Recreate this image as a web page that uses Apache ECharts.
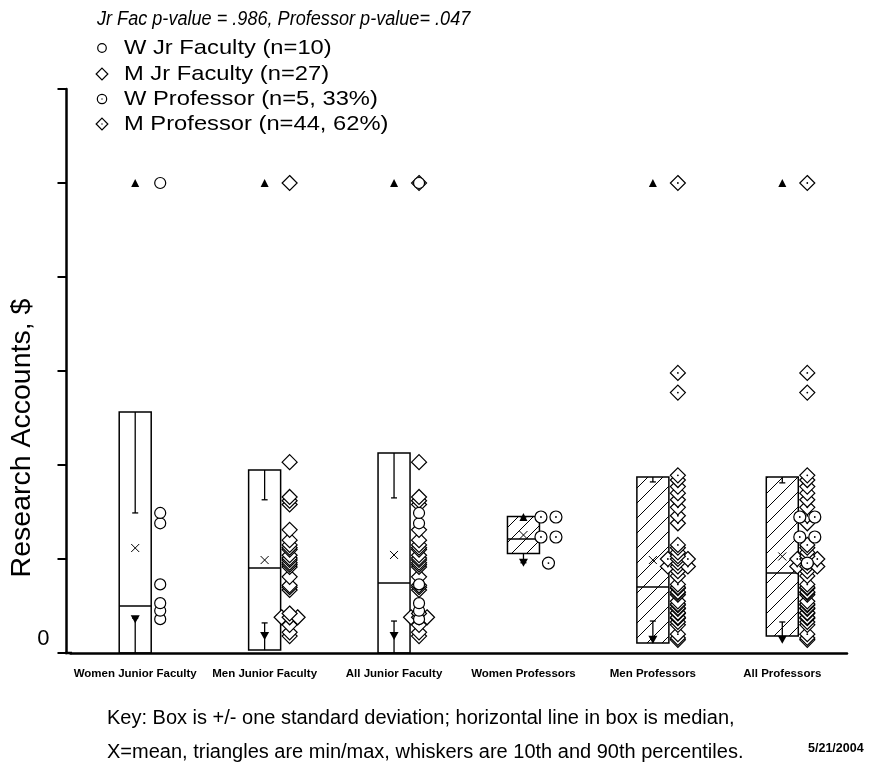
<!DOCTYPE html>
<html><head><meta charset="utf-8">
<script src="https://cdn.jsdelivr.net/npm/echarts@6/dist/echarts.min.js"></script>
<style>html,body{margin:0;padding:0;background:#fff}#c{width:869px;height:767px}</style>
</head><body><div id="c"></div>
<script>
// ---------------- data ----------------
const categories = ['Women Junior Faculty','Men Junior Faculty','All Junior Faculty','Women Professors','Men Professors','All Professors'];
const boxMean   = [1.117, 0.989, 1.043, 1.255, 0.989, 1.027];
const boxSD     = [1.447, 0.958, 1.085, 0.197, 0.883, 0.846];
const boxMedian = [0.500, 0.904, 0.745, 1.213, 0.702, 0.851];
const pct10     = [0.37, 0.32, 0.34, 0.96, 0.34, 0.33];
const pct90     = [1.49, 1.63, 1.65, 1.447, 1.82, 1.81];
const minValue  = [0.36, 0.18, 0.18, 0.96, 0.14, 0.14];
const maxValue  = [5.0, 5.0, 5.0, 1.447, 5.0, 5.0];
const hatched   = [false, false, false, true, true, true];

const wJrFaculty = [5.0, 1.49, 1.38, 0.73, 0.53, 0.45, 0.36];
const mJrFaculty = [5.0, 2.03, 1.66, 1.62, 1.58, 1.31, 1.20, 1.15, 1.12, 1.10, 1.04, 1.01, 0.99, 0.96, 0.94, 0.915, 0.81, 0.72, 0.70, 0.67, 0.42, 0.38, 0.38, 0.38, 0.30, 0.22, 0.18];
const wProfessor = [1.447, 1.447, 1.234, 1.234, 0.957];
const mProfessor = [5.0, 2.98, 2.77, 1.89, 1.84, 1.77, 1.70, 1.63, 1.55, 1.46, 1.38, 1.15, 1.12, 1.07, 1.03, 1.00, 1.00, 1.00, 0.96, 0.92, 0.92, 0.92, 0.87, 0.82, 0.73, 0.70, 0.69, 0.65, 0.64, 0.62, 0.55, 0.52, 0.51, 0.48, 0.47, 0.43, 0.42, 0.38, 0.37, 0.33, 0.30, 0.20, 0.16, 0.14];

const yTickLabels = ['0', '', '', '', '', '', ''];
const legendLabels = ['W Jr Faculty (n=10)', 'M Jr Faculty (n=27)', 'W Professor (n=5, 33%)', 'M Professor (n=44, 62%)'];
const pValueText = 'Jr Fac p-value = .986, Professor p-value= .047';
const yAxisTitle = 'Research Accounts, $';
const keyLines = ['Key: Box is +/- one standard deviation; horizontal line in box is median,',
                  'X=mean, triangles are min/max, whiskers are 10th and 90th percentiles.'];
const dateText = '5/21/2004';

// which point sets appear in which group (drawing order: men first)
const groupSets = [[0], [1], [1, 0], [2], [3], [3, 2]];
const setValues = [wJrFaculty, mJrFaculty, wProfessor, mProfessor];

// ---------------- styles / helpers ----------------
const FONT = '"Liberation Sans", Arial, Helvetica, sans-serif';
const setSpacing = [15, 8, 15, 10];
const POINT_DX = 25;
const BOX_HALF = 16;

function hatchCanvas() {
  const s = 15;
  const c = document.createElement('canvas');
  c.width = s; c.height = s;
  const g = c.getContext('2d');
  g.strokeStyle = '#000'; g.lineWidth = 1;
  g.beginPath(); g.moveTo(-1, s + 1); g.lineTo(s + 1, -1); g.stroke();
  return c;
}
const hatchPattern = { type: 'pattern', image: hatchCanvas(), repeat: 'repeat' };

function markerShapes(type, x, y, scale) {
  scale = scale || 1;
  const out = [];
  if (type === 0 || type === 2) {
    const r = (type === 0 ? 5.5 : 6) * scale;
    out.push({ type: 'circle', shape: { cx: x, cy: y, r: r }, style: { fill: '#fff', stroke: '#000', lineWidth: 1.2 } });
  } else {
    const d = 7.5 * scale;
    out.push({ type: 'polygon', shape: { points: [[x, y - d], [x + d, y], [x, y + d], [x - d, y]] }, style: { fill: '#fff', stroke: '#000', lineWidth: 1.2 } });
  }
  if (type >= 2) {
    out.push({ type: 'circle', shape: { cx: x, cy: y, r: 0.9 * scale }, style: { fill: '#000' } });
  }
  return out;
}

// ---------------- build tables ----------------
const boxData = categories.map((c, i) => [i, boxMean[i], boxSD[i], boxMedian[i], pct10[i], pct90[i], minValue[i], maxValue[i], hatched[i] ? 1 : 0]);

const pointData = [];
groupSets.forEach((sets, g) => {
  sets.forEach(s => {
    const vals = setValues[s].slice().sort((a, b) => a - b);
    const counts = {};
    vals.forEach(v => { counts[v] = (counts[v] || 0) + 1; });
    const seen = {};
    vals.forEach(v => {
      const n = counts[v];
      const k = seen[v] || 0; seen[v] = k + 1;
      const off = (k - (n - 1) / 2) * setSpacing[s];
      pointData.push([g, v, s, off]);
    });
  });
});

function renderBox(params, api) {
  const i = api.value(0);
  const mean = api.value(1), sd = api.value(2), med = api.value(3);
  const p10 = api.value(4), p90 = api.value(5), mn = api.value(6), mx = api.value(7);
  const hat = api.value(8);
  const top = mean + sd, bot = Math.max(0, mean - sd);
  const cx = api.coord([i, mean])[0];
  const yTop = api.coord([i, top])[1], yBot = api.coord([i, bot])[1];
  const yMed = api.coord([i, med])[1], yMean = api.coord([i, mean])[1];
  const y10 = api.coord([i, p10])[1], y90 = api.coord([i, p90])[1];
  const yMin = api.coord([i, mn])[1], yMax = api.coord([i, mx])[1];
  const ls = { stroke: '#000', lineWidth: 1.3, fill: null };
  const ch = [];
  ch.push({ type: 'rect', shape: { x: cx - BOX_HALF, y: yTop, width: 2 * BOX_HALF, height: yBot - yTop },
            style: { fill: hat ? hatchPattern : 'rgba(0,0,0,0)', stroke: '#000', lineWidth: 1.5 } });
  ch.push({ type: 'line', shape: { x1: cx - BOX_HALF, y1: yMed, x2: cx + BOX_HALF, y2: yMed }, style: { stroke: '#000', lineWidth: 1.5 } });
  // whiskers
  ch.push({ type: 'line', shape: { x1: cx, y1: yTop, x2: cx, y2: y90 }, style: ls });
  ch.push({ type: 'line', shape: { x1: cx - 3, y1: y90, x2: cx + 3, y2: y90 }, style: ls });
  ch.push({ type: 'line', shape: { x1: cx, y1: yBot, x2: cx, y2: y10 }, style: ls });
  ch.push({ type: 'line', shape: { x1: cx - 3, y1: y10, x2: cx + 3, y2: y10 }, style: ls });
  // mean cross
  ch.push({ type: 'line', shape: { x1: cx - 4, y1: yMean - 4, x2: cx + 4, y2: yMean + 4 }, style: { stroke: '#000', lineWidth: 1 } });
  ch.push({ type: 'line', shape: { x1: cx - 4, y1: yMean + 4, x2: cx + 4, y2: yMean - 4 }, style: { stroke: '#000', lineWidth: 1 } });
  // min / max triangles
  ch.push({ type: 'polygon', shape: { points: [[cx - 4.5, yMin - 4], [cx + 4.5, yMin - 4], [cx, yMin + 4]] }, style: { fill: '#000' } });
  ch.push({ type: 'polygon', shape: { points: [[cx - 4, yMax + 4], [cx + 4, yMax + 4], [cx, yMax - 4]] }, style: { fill: '#000' } });
  return { type: 'group', children: ch };
}

function renderPoint(params, api) {
  const g = api.value(0), v = api.value(1), s = api.value(2), off = api.value(3);
  const c = api.coord([g, v]);
  return { type: 'group', children: markerShapes(s, c[0] + POINT_DX + off, c[1]) };
}

// ---------------- graphics (text blocks, legend) ----------------
const graphics = [];
graphics.push({ type: 'text', x: 97, y: 19, scaleX: 0.905, style: { text: pValueText, font: 'italic 20px ' + FONT, fill: '#000', align: 'left', verticalAlign: 'middle' } });
const legendRows = [48, 74, 99, 124];
legendLabels.forEach((t, k) => {
  markerShapes(k, 102, legendRows[k], 0.78).forEach(e => graphics.push(e));
  graphics.push({ type: 'text', x: 124, y: legendRows[k], scaleX: 1.13, style: { text: t, font: '21px ' + FONT, fill: '#000', align: 'left', verticalAlign: 'middle' } });
});
graphics.push({ type: 'text', x: 22, y: 438, rotation: Math.PI / 2, style: { text: yAxisTitle, font: '28.5px ' + FONT, fill: '#000', align: 'center', verticalAlign: 'middle' } });
graphics.push({ type: 'line', shape: { x1: 65, y1: 653, x2: 72, y2: 653 }, style: { stroke: '#000', lineWidth: 2.5 } });
graphics.push({ type: 'text', x: 107, y: 718, style: { text: keyLines[0], font: '20px ' + FONT, fill: '#000', align: 'left', verticalAlign: 'middle' } });
graphics.push({ type: 'text', x: 107, y: 752, style: { text: keyLines[1], font: '20px ' + FONT, fill: '#000', align: 'left', verticalAlign: 'middle' } });
graphics.push({ type: 'text', x: 808, y: 749, style: { text: dateText, font: 'bold 12.5px ' + FONT, fill: '#000', align: 'left', verticalAlign: 'middle' } });

// ---------------- chart ----------------
const chart = echarts.init(document.getElementById('c'), null, { renderer: 'canvas' });
chart.setOption({
  animation: false,
  backgroundColor: '#fff',
  grid: { left: 70.5, right: 22, top: 89, bottom: 114 },
  xAxis: {
    type: 'category', data: categories, boundaryGap: true,
    axisLine: { lineStyle: { color: '#000', width: 2.5 } },
    axisTick: { alignWithLabel: true, length: 14, lineStyle: { color: '#000', width: 2 } },
    axisLabel: { interval: 0, fontFamily: FONT, fontWeight: 'bold', fontSize: 11.5, color: '#000', margin: 15 },
    splitLine: { show: false }
  },
  yAxis: {
    type: 'value', min: 0, max: 6, interval: 1, offset: 4,
    axisLine: { show: true, lineStyle: { color: '#000', width: 2.5 } },
    axisTick: { show: true, length: 9, lineStyle: { color: '#000', width: 2 } },
    axisLabel: { formatter: v => yTickLabels[Math.round(v)] || '', fontFamily: FONT, fontSize: 22, color: '#000', margin: 17, verticalAlign: 'bottom', padding: [0, 0, 3, 0] },
    splitLine: { show: false }
  },
  series: [
    { type: 'custom', renderItem: renderBox, data: boxData, encode: { x: 0, y: 1 }, z: 2 },
    { type: 'custom', renderItem: renderPoint, data: pointData, encode: { x: 0, y: 1 }, z: 3 }
  ],
  graphic: graphics
});
</script>
</body></html>
